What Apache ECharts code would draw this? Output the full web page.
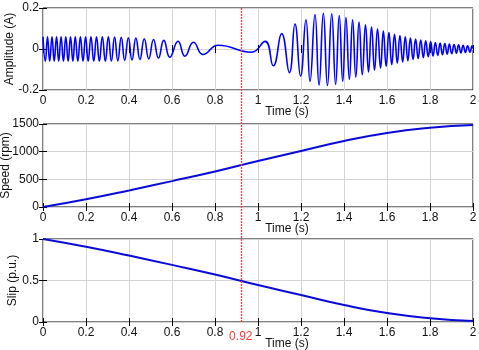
<!DOCTYPE html>
<html>
<head>
<meta charset="utf-8">
<script src="https://cdn.jsdelivr.net/npm/echarts@6/dist/echarts.min.js"></script>
<style>
    html, body { margin: 0; padding: 0; background: #fff; }
    #chart { width: 479px; height: 350px; }
</style>
</head>
<body>
<div id="chart"></div>
<script>
// time axis (s)
const timeMin = 0
const timeMax = 2
const timeStep = 0.2
// marker time (s)
const markerT = 0.92

// amplitude: extrema (time s, value A)
const ampT = [
    0.000, 0.011, 0.021, 0.031, 0.042, 0.052, 0.063, 0.073, 0.084, 0.095,
    0.106, 0.117, 0.128, 0.139, 0.150, 0.162, 0.174, 0.186, 0.198, 0.210,
    0.223, 0.236, 0.249, 0.262, 0.276, 0.290, 0.304, 0.318, 0.333, 0.348,
    0.364, 0.380, 0.397, 0.414, 0.432, 0.451, 0.471, 0.492, 0.514, 0.537,
    0.562, 0.590, 0.628, 0.660, 0.700, 0.744, 0.815, 0.970, 1.033, 1.071,
    1.110, 1.146, 1.172, 1.198, 1.223, 1.242, 1.265, 1.284, 1.304, 1.323,
    1.343, 1.361, 1.378, 1.394, 1.409, 1.425, 1.440, 1.455, 1.470, 1.485,
    1.500, 1.514, 1.528, 1.542, 1.556, 1.570, 1.583, 1.596, 1.609, 1.622,
    1.635, 1.648, 1.660, 1.673, 1.685, 1.697, 1.709, 1.721, 1.733, 1.745,
    1.757, 1.769, 1.780, 1.792, 1.803, 1.814, 1.825, 1.836, 1.847, 1.858,
    1.869, 1.880, 1.890, 1.901, 1.912, 1.923, 1.933, 1.944, 1.954, 1.965,
    1.975, 1.986, 1.996, 2.000
]
const ampV = [
    0.060, -0.060, 0.060, -0.060, 0.060, -0.060, 0.060, -0.060, 0.060, -0.060,
    0.060, -0.060, 0.060, -0.060, 0.060, -0.060, 0.060, -0.060, 0.060, -0.060,
    0.060, -0.060, 0.060, -0.060, 0.060, -0.060, 0.059, -0.059, 0.058, -0.058,
    0.057, -0.056, 0.055, -0.054, 0.053, -0.051, 0.050, -0.048, 0.046, -0.044,
    0.042, -0.040, 0.038, -0.035, 0.033, -0.027, 0.018, -0.016, 0.037, -0.082,
    0.075, -0.115, 0.122, -0.132, 0.143, -0.158, 0.168, -0.176, 0.174, -0.178,
    0.172, -0.172, 0.163, -0.158, 0.154, -0.148, 0.143, -0.137, 0.131, -0.125,
    0.118, -0.112, 0.107, -0.102, 0.097, -0.093, 0.088, -0.084, 0.080, -0.076,
    0.072, -0.069, 0.066, -0.063, 0.060, -0.057, 0.054, -0.051, 0.049, -0.046,
    0.044, -0.042, 0.040, -0.038, 0.036, -0.034, 0.032, -0.031, 0.029, -0.028,
    0.026, -0.025, 0.024, -0.023, 0.022, -0.021, 0.020, -0.019, 0.018, -0.017,
    0.016, -0.015, 0.015, 0.005
]

// speed and slip, read every 0.2 s
const sampleT = [0, 0.2, 0.4, 0.6, 0.8, 1.0, 1.2, 1.4, 1.6, 1.8, 2.0]
const speed = [0, 141, 300, 468, 642, 832, 1012, 1192, 1338, 1431, 1482]
const slip = [1, 0.906, 0.8, 0.688, 0.572, 0.445, 0.325, 0.205, 0.108, 0.046, 0.012]

// y axis ranges [min, max, interval]
const ampRange = [-0.2, 0.2, 0.2]
const speedRange = [0, 1500, 500]
const slipRange = [0, 1, 0.5]

const FONT = '"Liberation Sans", Arial, sans-serif'
const TEXT = '#111'
const GRIDLINE = '#d4d4d4'
const RED = '#ff3b3b'

const chart = echarts.init(document.getElementById('chart'))

const panels = [
    { top: 8, height: 82, range: ampRange, name: 'Amplitude (A)', gap: 27 },
    { top: 124, height: 83, range: speedRange, name: 'Speed (rpm)', gap: 31 },
    { top: 239, height: 83, range: slipRange, name: 'Slip (p.u.)', gap: 24 }
]

const tick = { show: true, inside: true, length: 4, lineStyle: { color: '#000' } }

const grid = []
const xAxis = []
const yAxis = []

panels.forEach((p, i) => {
    grid.push({
        left: 43, right: 6, top: p.top, height: p.height,
        show: true, borderColor: '#000', borderWidth: 1,
        outerBoundsMode: 'none'
    })
    // bottom time axis
    xAxis.push({
        gridIndex: i, type: 'value', position: 'bottom',
        min: timeMin, max: timeMax, interval: timeStep,
        axisLine: { show: false },
        axisTick: tick,
        axisLabel: { color: TEXT, fontSize: 12, fontFamily: FONT, margin: 5 },
        splitLine: { show: true, lineStyle: { color: GRIDLINE, width: 1 } },
        name: 'Time (s)', nameLocation: 'middle', nameGap: 16, nameMoveOverlap: false,
        nameTextStyle: { color: TEXT, fontSize: 12, fontFamily: FONT, padding: [0, 0, 0, 58] }
    })
    // top ticks only
    xAxis.push({
        gridIndex: i, type: 'value', position: 'top',
        min: timeMin, max: timeMax, interval: timeStep,
        axisLine: { show: false }, axisTick: tick,
        axisLabel: { show: false }, splitLine: { show: false }
    })
    yAxis.push({
        gridIndex: i, type: 'value', position: 'left',
        min: p.range[0], max: p.range[1], interval: p.range[2],
        axisLine: { show: false },
        axisTick: tick,
        axisLabel: {
            color: TEXT, fontSize: 12, fontFamily: FONT, margin: 4,
            formatter: v => String(v)
        },
        splitLine: { show: true, lineStyle: { color: GRIDLINE, width: 1 } },
        name: p.name, nameLocation: 'middle', nameGap: p.gap, nameMoveOverlap: false,
        nameTextStyle: { color: TEXT, fontSize: 12, fontFamily: FONT }
    })
    yAxis.push({
        gridIndex: i, type: 'value', position: 'right',
        min: p.range[0], max: p.range[1], interval: p.range[2],
        axisLine: { show: false }, axisTick: tick,
        axisLabel: { show: false }, splitLine: { show: false }
    })
})

// overlay grid spanning all three panels for the marker line
grid.push({ left: 43, right: 6, top: 8, bottom: 28, show: false, outerBoundsMode: 'none' })
xAxis.push({ gridIndex: 3, type: 'value', min: timeMin, max: timeMax, show: false })
yAxis.push({ gridIndex: 3, type: 'value', min: 0, max: 1, show: false })

const option = {
    animation: false,
    backgroundColor: '#fff',
    grid,
    xAxis,
    yAxis,
    series: [
        {
            type: 'line', xAxisIndex: 0, yAxisIndex: 0,
            data: ampT.map((t, i) => [t, ampV[i]]),
            smooth: true, symbol: 'none',
            lineStyle: { color: '#0000ff', width: 1.6 }
        },
        {
            type: 'line', xAxisIndex: 2, yAxisIndex: 2,
            data: sampleT.map((t, i) => [t, speed[i]]),
            smooth: true, symbol: 'none',
            lineStyle: { color: '#0a0ad8', width: 2 }
        },
        {
            type: 'line', xAxisIndex: 4, yAxisIndex: 4,
            data: sampleT.map((t, i) => [t, slip[i]]),
            smooth: true, symbol: 'none',
            lineStyle: { color: '#0a0ad8', width: 2 }
        },
        {
            type: 'line', xAxisIndex: 6, yAxisIndex: 6,
            data: [],
            color: RED,
            itemStyle: { color: RED },
            lineStyle: { color: RED },
            markLine: {
                silent: true, symbol: 'none',
                itemStyle: { color: RED },
                lineStyle: { color: RED, width: 1.3, type: [2, 1], opacity: 1 },
                label: {
                    show: true, position: 'start', distance: 9,
                    formatter: '0.92', color: RED, fontSize: 12, fontFamily: FONT
                },
                data: [{ xAxis: markerT, lineStyle: { color: RED } }]
            }
        }
    ]
}

chart.setOption(option)
</script>
</body>
</html>
